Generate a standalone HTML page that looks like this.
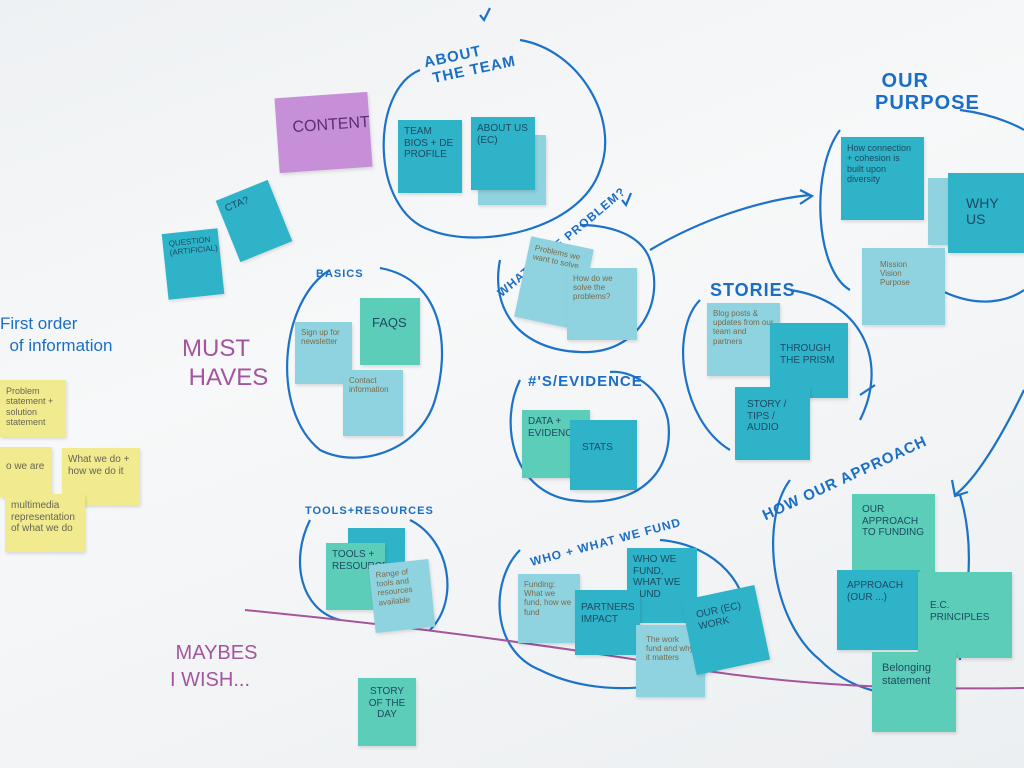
<!DOCTYPE html>
<html><head><meta charset="utf-8"><style>
html,body{margin:0;padding:0}
body{width:1024px;height:768px;position:relative;overflow:hidden;background:linear-gradient(160deg,#eef1f3 0%,#f7f8f9 40%,#eceff1 100%);font-family:"Liberation Sans",sans-serif}
.n{position:absolute;box-sizing:border-box;padding:6px;font-size:10px;color:#1d4a63;text-transform:uppercase;line-height:1.15;box-shadow:1px 2px 3px rgba(0,0,0,.12);overflow:hidden}
.t{background:#2fb3c8}.lt{background:#8fd3e0}.g{background:#5ccdb8}.y{background:#f1ea8e;color:#665;text-transform:none}.p{background:#c78fd8;color:#5a2e70;font-size:16px}
.s{text-transform:none;font-size:8px;color:#7a6a4a}
.h{position:absolute;color:#1b6ec5;font-size:15px;font-weight:bold;letter-spacing:1px}
.m{position:absolute;color:#a3559e;font-size:24px}
</style></head><body>
<svg width="1024" height="768" style="position:absolute;left:0;top:0" fill="none" stroke="#1b72c8" stroke-width="2.2">
<path d="M420 70 C370 90 370 210 430 230 C480 250 580 230 600 170 C620 120 580 50 520 40"/>
<path d="M330 270 C280 300 270 410 320 450 C360 470 420 450 435 400 C450 350 445 280 380 268"/>
<path d="M500 260 C490 310 520 350 580 352 C640 355 665 300 650 260 C640 230 600 225 580 225"/>
<path d="M520 380 C500 420 510 490 570 500 C640 510 675 470 668 420 C660 385 630 370 610 372"/>
<path d="M310 520 C290 560 300 610 340 620 M410 520 C450 540 460 600 430 630"/>
<path d="M520 550 C490 580 490 650 540 670 C600 700 680 690 730 660 M660 540 C720 545 750 590 745 620"/>
<path d="M700 300 C670 330 680 420 730 450 M790 290 C860 300 890 360 860 420"/>
<path d="M840 130 C810 170 815 270 850 290 M960 110 C1000 115 1024 130 1024 130 M940 290 C980 310 1010 300 1024 290"/>
<path d="M790 480 C760 520 770 620 820 660 C850 690 890 700 930 690 M960 495 C980 560 960 620 960 660"/>
<path d="M650 250 C700 220 760 200 810 195 M800 190 L812 196 L800 204"/>
<path d="M1024 390 C1000 440 975 480 955 495 M952 480 L955 496 L968 492"/>
<path d="M480 15 L484 20 L490 8 M622 200 L626 205 L631 193"/>
<path d="M860 395 L875 385" />
<path d="M245 610 C400 625 550 645 700 670 C800 685 900 690 1024 688" stroke="#a3559e" stroke-width="2"/>
</svg>
<div class="h" style="left:425px;top:45px;transform:rotate(-12deg)">ABOUT<br>&nbsp;THE TEAM</div>
<div class="h" style="left:875px;top:70px;font-size:20px;line-height:1.1">&nbsp;OUR<br>PURPOSE</div>
<div class="h" style="left:480px;top:235px;transform:rotate(-40deg);font-size:12px">WHAT'S THE PROBLEM?</div>
<div class="h" style="left:316px;top:268px;font-size:11px">BASICS</div>
<div class="h" style="left:710px;top:280px;font-size:18px">STORIES</div>
<div class="h" style="left:528px;top:373px">#'S/EVIDENCE</div>
<div class="h" style="left:755px;top:470px;transform:rotate(-25deg)">HOW OUR APPROACH</div>
<div class="h" style="left:305px;top:505px;font-size:11px">TOOLS+RESOURCES</div>
<div class="h" style="left:528px;top:535px;font-size:12px;transform:rotate(-15deg)">WHO + WHAT WE FUND</div>
<div style="position:absolute;left:0;top:313px;color:#1b6ec5;font-size:17px;line-height:1.3">First order<br>&nbsp;&nbsp;of information</div>
<div class="m" style="left:182px;top:335px;line-height:1.2">MUST<br>&nbsp;HAVES</div>
<div class="m" style="left:170px;top:640px;font-size:20px;line-height:1.35">&nbsp;MAYBES<br>I WISH...</div>
<div class="n p" style="left:277px;top:95px;width:93px;height:75px;transform:rotate(-4deg);padding:22px 16px">CONTENT</div>
<div class="n t" style="left:398px;top:120px;width:64px;height:73px">Team Bios + DE profile</div>
<div class="n lt" style="left:478px;top:135px;width:68px;height:70px"></div>
<div class="n t" style="left:471px;top:117px;width:64px;height:73px">About us (EC)</div>
<div class="n t" style="left:165px;top:231px;width:56px;height:66px;transform:rotate(-6deg);font-size:8px">Question (artificial)</div>
<div class="n t" style="left:226px;top:188px;width:56px;height:66px;transform:rotate(-22deg)">CTA?</div>
<div class="n lt s" style="left:522px;top:242px;width:64px;height:82px;transform:rotate(12deg)">Problems we want to solve</div>
<div class="n lt s" style="left:567px;top:268px;width:70px;height:72px">How do we solve the problems?</div>
<div class="n lt s" style="left:295px;top:322px;width:57px;height:62px">Sign up for newsletter</div>
<div class="n g" style="left:360px;top:298px;width:60px;height:67px;font-size:13px;padding:18px 12px">FAQs</div>
<div class="n lt s" style="left:343px;top:370px;width:60px;height:66px">Contact information</div>
<div class="n g" style="left:522px;top:410px;width:68px;height:68px">Data + Evidence</div>
<div class="n t" style="left:570px;top:420px;width:67px;height:70px;padding:22px 12px">Stats</div>
<div class="n lt s" style="left:707px;top:303px;width:73px;height:73px">Blog posts &amp; updates from our team and partners</div>
<div class="n t" style="left:770px;top:323px;width:78px;height:75px;padding:20px 10px">Through the prism</div>
<div class="n t" style="left:735px;top:387px;width:75px;height:73px;padding:12px">Story / tips / audio</div>
<div class="n t" style="left:841px;top:137px;width:83px;height:83px;font-size:9px;text-transform:none">How connection + cohesion is built upon diversity</div>
<div class="n lt" style="left:928px;top:178px;width:32px;height:67px"></div>
<div class="n t" style="left:948px;top:173px;width:76px;height:80px;font-size:14px;padding:22px 18px">WHY US</div>
<div class="n lt s" style="left:862px;top:248px;width:83px;height:77px;padding:12px 18px">Mission Vision Purpose</div>
<div class="n t" style="left:348px;top:528px;width:57px;height:52px"></div>
<div class="n g" style="left:326px;top:543px;width:59px;height:67px">Tools + resources</div>
<div class="n lt s" style="left:372px;top:562px;width:60px;height:68px;transform:rotate(-6deg)">Range of tools and resources available</div>
<div class="n lt s" style="left:518px;top:574px;width:62px;height:69px">Funding: What we fund, how we fund</div>
<div class="n t" style="left:627px;top:548px;width:70px;height:75px">Who we fund, what we fund</div>
<div class="n t" style="left:575px;top:590px;width:65px;height:65px;padding:12px 6px">Partners Impact</div>
<div class="n lt s" style="left:636px;top:625px;width:69px;height:72px;padding:10px">The work fund and why it matters</div>
<div class="n t" style="left:688px;top:592px;width:75px;height:76px;transform:rotate(-12deg);padding:12px">Our (EC) work</div>
<div class="n g" style="left:852px;top:494px;width:83px;height:78px;padding:10px">Our approach to funding</div>
<div class="n t" style="left:837px;top:570px;width:83px;height:80px;padding:10px">Approach (our ...)</div>
<div class="n g" style="left:918px;top:572px;width:94px;height:86px;padding:28px 12px">E.C. Principles</div>
<div class="n g" style="left:872px;top:652px;width:84px;height:80px;text-transform:none;font-size:11px;padding:10px">Belonging statement</div>
<div class="n g" style="left:358px;top:678px;width:58px;height:68px;text-align:center;padding:8px 4px">Story of the day</div>
<div class="n y" style="left:0;top:380px;width:66px;height:57px;font-size:9px">Problem statement + solution statement</div>
<div class="n y" style="left:0;top:447px;width:52px;height:50px;padding-top:14px">o we are</div>
<div class="n y" style="left:62px;top:448px;width:78px;height:57px">What we do + how we do it</div>
<div class="n y" style="left:5px;top:494px;width:80px;height:58px">multimedia representation of what we do</div>
</body></html>
